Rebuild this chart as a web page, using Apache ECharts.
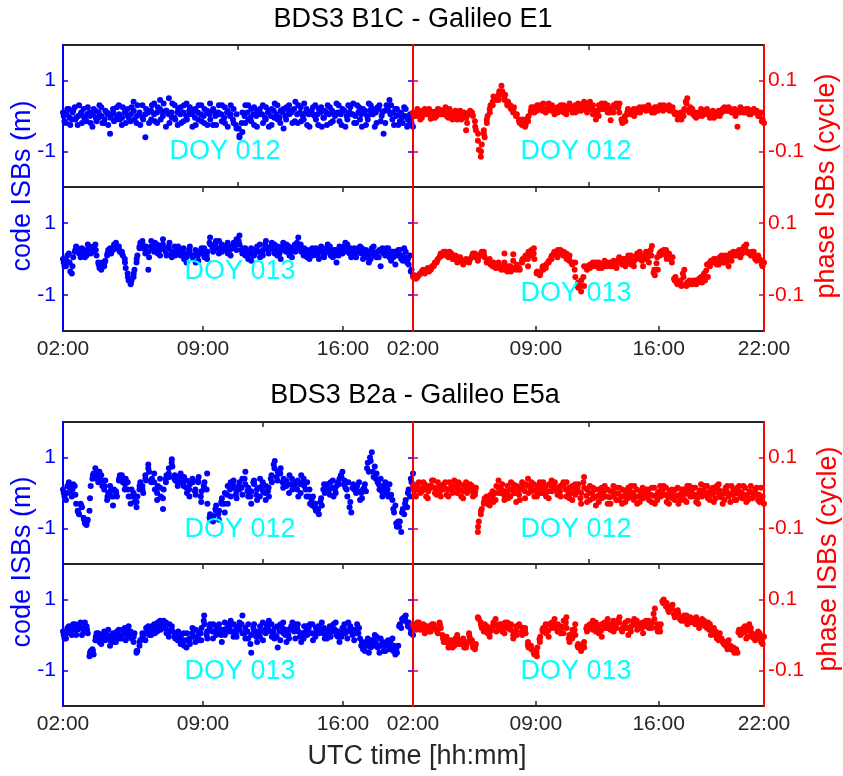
<!DOCTYPE html>
<html>
<head>
<meta charset="utf-8">
<script src="https://cdn.jsdelivr.net/npm/echarts@6/dist/echarts.min.js"></script>
<style>html,body{margin:0;padding:0;background:#fff}#main{width:843px;height:776px}</style>
</head>
<body>
<div id="main"></div>
<script>
// ISB values, evenly spaced epochs across each panel
// code ISBs in m, phase ISBs in cycle
// *_b: second sweep read at the in-between epochs, *_c: readings of the cloud centre
var codeB1C_012 = [
  0.1, -0.2, 0.2, -0.1, 0.25, -0.25, 0.05, 0.2, -0.15, 0.1,
  -0.3, 0.15, -0.05, 0.25, -0.2, 0.1, -0.5, 0.2, -0.1, 0.3,
  -0.25, 0.1, 0.2, -0.15, 0.4, -0.2, 0.05, 0.3, -0.6, 0.15,
  -0.1, 0.35, -0.2, 0.45, 0.1, -0.3, 0.5, -0.05, 0.3, -0.25,
  0.25, -0.15, 0.35, 0.05, -0.3, 0.2, -0.1, 0.3, -0.2, 0.15,
  0.35, -0.25, 0.1, 0.3, -0.15, 0.25, -0.3, 0.05, 0.2, -0.35,
  -0.55, -0.45, 0.3, -0.1, 0.2, -0.25, 0.15, 0.05, -0.2, 0.25,
  -0.3, 0.2, 0.35, -0.1, 0.15, -0.35, 0.25, 0.05, -0.2, 0.4,
  0.3, -0.15, 0.35, -0.25, 0.1, 0.25, -0.1, 0.2, -0.3, 0.15,
  0.3, -0.2, 0.1, 0.35, -0.15, 0.2, -0.3, 0.3, 0.05, -0.2,
  0.3, -0.1, 0.2, -0.25, 0.35, 0.05, -0.3, 0.25, -0.15, -0.5,
  0.3, 0.45, -0.1, 0.2, -0.25, 0.1, 0.25, -0.3, 0.05, -0.3
];
var codeB1C_012_b = [
  -0.15, 0.2, -0.25, 0.15, -0.05, 0.3, -0.2, -0.05, 0.25, -0.2,
  0.2, -0.15, 0.3, -0.2, 0.15, -0.25, 0.05, -0.15, 0.25, -0.1,
  0.25, -0.2, -0.05, 0.25, -0.1, 0.3, -0.25, -0.1, 0.2, -0.2,
  0.3, -0.15, 0.25, -0.1, 0.35, 0.15, -0.2, 0.35, -0.1, 0.2,
  -0.2, 0.3, -0.1, 0.25, 0.15, -0.25, 0.3, -0.15, 0.2, -0.25,
  -0.1, 0.2, -0.25, 0.05, 0.3, -0.2, 0.15, 0.3, -0.2, 0.05,
  -0.6, 0.1, -0.2, 0.3, -0.15, 0.25, -0.3, 0.2, 0.3, -0.1,
  0.15, -0.25, -0.05, 0.3, -0.2, 0.2, -0.1, 0.3, 0.15, -0.15,
  -0.2, 0.25, -0.1, 0.2, -0.3, 0.05, 0.3, -0.25, 0.25, -0.05,
  -0.25, 0.25, -0.15, 0.05, 0.3, -0.25, 0.15, -0.1, 0.25, 0.35,
  -0.2, 0.25, -0.3, 0.15, -0.1, 0.3, 0.2, -0.2, 0.3, 0.1,
  -0.2, 0.15, 0.3, -0.25, 0.2, -0.15, -0.2, 0.2, -0.25, -0.2
];
var codeB1C_012_c = [
  0.0, 0.05, -0.05, 0.1, -0.1, 0.0, 0.1, -0.05, 0.05, 0.0,
  0.05, -0.05, 0.1, 0.0, -0.1, 0.05, -0.05, 0.1, 0.0, 0.05,
  -0.05, 0.1, 0.0, 0.05, 0.15, 0.0, 0.1, -0.05, 0.05, 0.1,
  0.15, 0.05, 0.1, 0.2, 0.0, 0.15, 0.05, 0.1, -0.05, 0.1,
  0.05, 0.1, 0.0, 0.15, 0.05, -0.05, 0.1, 0.05, 0.0, 0.1,
  0.05, 0.15, 0.0, 0.1, 0.05, -0.05, 0.1, 0.0, -0.1, -0.25,
  -0.35, -0.2, 0.0, 0.1, -0.05, 0.05, 0.0, 0.1, 0.05, -0.05,
  0.1, 0.0, 0.15, 0.05, -0.05, 0.1, 0.0, 0.15, 0.1, 0.2,
  0.05, 0.1, 0.0, 0.1, 0.05, 0.15, 0.0, 0.05, 0.1, -0.05,
  0.1, 0.05, 0.15, 0.0, 0.1, 0.05, 0.15, 0.0, 0.1, 0.05,
  0.0, 0.1, 0.05, 0.1, 0.0, 0.15, 0.05, 0.1, 0.2, 0.0,
  0.15, 0.2, 0.05, 0.1, 0.0, 0.05, -0.05, 0.0, -0.1, -0.05
];
var phaseB1C_012 = [
  0.01, 0.0, 0.015, -0.005, 0.02, 0.005, -0.008, 0.012, 0.0, 0.018,
  0.005, 0.025, -0.005, 0.01, 0.0, -0.01, 0.015, -0.005, -0.04, 0.005,
  0.01, -0.015, -0.07, -0.115, -0.04, -0.01, 0.02, 0.04, 0.05, 0.06,
  0.085, 0.05, 0.035, 0.03, 0.015, 0.0, -0.01, -0.02, -0.03, -0.015,
  0.01, 0.025, 0.015, 0.03, 0.02, 0.01, 0.035, 0.02, 0.005, 0.025,
  0.015, 0.03, 0.005, 0.02, 0.025, 0.01, 0.035, 0.015, 0.03, 0.02,
  0.04, 0.005, -0.01, 0.03, 0.02, 0.035, 0.01, -0.012, 0.03, 0.025,
  0.035, -0.02, -0.015, 0.005, 0.015, 0.0, 0.02, 0.01, 0.025, 0.015,
  0.02, 0.01, 0.025, 0.015, 0.02, 0.03, 0.02, 0.015, 0.025, 0.01,
  0.0, -0.01, 0.02, 0.05, 0.025, 0.005, -0.005, 0.01, 0.0, 0.015,
  0.005, 0.01, -0.005, 0.01, 0.0, 0.02, 0.015, 0.025, 0.01, 0.02,
  -0.03, 0.025, 0.01, 0.02, 0.005, 0.015, 0.01, 0.0, 0.01, -0.02
];
var phaseB1C_012_b = [
  0.0, 0.02, -0.01, 0.015, 0.005, 0.02, 0.01, -0.005, 0.02, 0.005,
  0.015, 0.0, 0.02, -0.01, 0.015, 0.005, -0.01, 0.01, -0.02, 0.015,
  0.0, -0.04, -0.095, -0.08, -0.06, 0.0, 0.03, 0.055, 0.045, 0.07,
  0.07, 0.06, 0.04, 0.02, 0.025, 0.005, -0.02, -0.01, -0.025, 0.0,
  0.025, 0.01, 0.03, 0.02, 0.035, 0.015, 0.02, 0.03, 0.015, 0.01,
  0.03, 0.01, 0.025, 0.035, 0.01, 0.03, 0.015, 0.025, 0.04, 0.01,
  0.02, 0.03, 0.015, 0.0, 0.035, 0.02, 0.03, 0.02, 0.01, 0.035,
  0.01, -0.015, 0.0, 0.02, 0.005, 0.02, 0.01, 0.025, 0.02, 0.025,
  0.03, 0.02, 0.01, 0.025, 0.03, 0.015, 0.025, 0.03, 0.02, 0.005,
  -0.01, 0.01, 0.0, 0.035, 0.01, 0.02, 0.01, 0.0, 0.02, 0.005,
  0.02, -0.005, 0.015, 0.0, 0.015, 0.01, 0.025, 0.015, 0.02, 0.01,
  0.015, 0.01, 0.02, 0.01, 0.02, 0.005, 0.02, 0.015, 0.0, -0.01
];
var phaseB1C_012_c = [
  0.008, 0.01, 0.005, 0.008, 0.012, 0.006, 0.01, 0.004, 0.01, 0.008,
  0.01, 0.006, 0.008, 0.004, 0.006, 0.002, 0.006, 0.0, -0.005, 0.008,
  0.005, -0.03, -0.05, -0.1, -0.05, -0.02, 0.01, 0.03, 0.05, 0.045,
  0.06, 0.045, 0.03, 0.025, 0.01, 0.0, -0.015, -0.025, -0.02, -0.005,
  0.015, 0.02, 0.02, 0.025, 0.015, 0.02, 0.025, 0.015, 0.02, 0.015,
  0.02, 0.02, 0.015, 0.025, 0.02, 0.02, 0.025, 0.02, 0.035, 0.02,
  0.03, 0.02, 0.005, 0.015, 0.025, 0.03, 0.02, 0.01, 0.02, 0.03,
  0.025, -0.01, -0.005, 0.01, 0.01, 0.01, 0.015, 0.015, 0.02, 0.02,
  0.025, 0.015, 0.02, 0.02, 0.025, 0.025, 0.02, 0.02, 0.02, 0.01,
  0.005, 0.0, 0.01, 0.04, 0.015, 0.01, 0.0, 0.005, 0.01, 0.01,
  0.01, 0.005, 0.005, 0.005, 0.01, 0.015, 0.02, 0.02, 0.015, 0.015,
  0.0, 0.015, 0.015, 0.015, 0.01, 0.01, 0.015, 0.01, 0.005, -0.015
];
var codeB1C_013 = [
  0.0, -0.2, 0.15, -0.4, 0.2, 0.3, 0.05, 0.25, 0.1, 0.35,
  0.2, 0.4, -0.1, -0.3, -0.2, 0.1, 0.3, 0.25, 0.45, 0.35,
  0.2, 0.0, -0.4, -0.7, -0.5, -0.1, 0.3, 0.5, 0.15, -0.3,
  0.5, 0.2, 0.4, 0.1, 0.55, 0.25, 0.3, 0.05, 0.35, 0.2,
  0.1, 0.3, -0.1, 0.2, 0.05, 0.25, -0.05, 0.15, 0.3, 0.0,
  0.6, 0.35, 0.5, 0.15, 0.4, 0.25, 0.45, 0.1, 0.3, 0.55,
  0.65, 0.3, 0.1, 0.2, -0.05, 0.15, 0.35, 0.05, 0.25, 0.5,
  0.3, 0.45, 0.15, 0.35, 0.0, 0.25, 0.4, 0.1, 0.3, 0.2,
  0.6, 0.2, 0.3, 0.05, 0.25, 0.1, 0.3, 0.0, 0.2, 0.15,
  0.4, 0.1, 0.25, -0.1, 0.35, 0.15, 0.45, 0.2, 0.05, 0.3,
  0.2, 0.35, 0.0, 0.25, -0.1, 0.3, 0.1, 0.2, -0.2, 0.15,
  0.3, 0.05, 0.2, -0.15, 0.25, 0.0, 0.3, -0.1, 0.1, -0.45
];
var codeB1C_013_b = [
  -0.2, 0.1, -0.35, 0.05, 0.35, 0.15, 0.3, 0.05, 0.4, 0.15,
  0.35, 0.1, -0.25, -0.1, -0.05, 0.25, 0.15, 0.4, 0.3, 0.2,
  0.1, -0.25, -0.6, -0.6, -0.3, 0.1, 0.45, 0.3, 0.35, 0.05,
  0.3, 0.45, 0.15, 0.35, 0.3, 0.1, 0.45, 0.2, 0.1, 0.35,
  0.25, 0.0, 0.15, 0.35, 0.1, -0.1, 0.2, 0.3, 0.05, 0.2,
  0.4, 0.2, 0.3, 0.5, 0.2, 0.35, 0.15, 0.35, 0.45, 0.25,
  0.4, 0.15, 0.3, 0.0, 0.3, 0.1, 0.2, 0.4, 0.1, 0.35,
  0.15, 0.3, 0.4, 0.1, 0.3, 0.45, 0.2, 0.35, 0.05, 0.4,
  0.3, 0.4, 0.1, 0.25, 0.0, 0.3, 0.15, 0.2, 0.35, 0.05,
  0.2, 0.35, 0.05, 0.25, 0.1, 0.3, 0.2, 0.4, 0.3, 0.1,
  0.05, 0.25, 0.3, 0.1, 0.2, 0.0, 0.35, 0.05, 0.25, 0.3,
  0.1, 0.3, -0.05, 0.2, 0.1, 0.25, -0.05, 0.2, -0.15, -0.3
];
var codeB1C_013_c = [
  -0.1, -0.05, -0.1, -0.2, 0.25, 0.2, 0.2, 0.15, 0.25, 0.25,
  0.3, 0.25, -0.15, -0.2, -0.1, 0.15, 0.25, 0.3, 0.35, 0.25,
  0.15, -0.1, -0.5, -0.65, -0.4, 0.0, 0.35, 0.4, 0.25, 0.2,
  0.35, 0.3, 0.25, 0.25, 0.4, 0.2, 0.35, 0.15, 0.2, 0.25,
  0.15, 0.15, 0.05, 0.25, 0.1, 0.1, 0.1, 0.2, 0.15, 0.1,
  0.45, 0.3, 0.4, 0.3, 0.3, 0.3, 0.3, 0.25, 0.35, 0.4,
  0.5, 0.25, 0.2, 0.1, 0.15, 0.1, 0.25, 0.2, 0.2, 0.4,
  0.25, 0.35, 0.25, 0.2, 0.15, 0.35, 0.3, 0.2, 0.2, 0.3,
  0.45, 0.3, 0.2, 0.15, 0.15, 0.2, 0.2, 0.1, 0.25, 0.1,
  0.3, 0.2, 0.15, 0.1, 0.2, 0.2, 0.35, 0.3, 0.15, 0.2,
  0.15, 0.3, 0.15, 0.15, 0.05, 0.15, 0.2, 0.15, 0.05, 0.2,
  0.2, 0.15, 0.1, 0.05, 0.2, 0.1, 0.1, 0.05, 0.0, -0.35
];
var phaseB1C_013 = [
  -0.05, -0.055, -0.045, -0.035, -0.04, -0.025, -0.03, -0.02, -0.01, 0.005,
  0.01, 0.02, 0.005, 0.015, 0.0, -0.01, 0.005, -0.015, 0.0, -0.01,
  0.005, 0.015, -0.005, 0.01, 0.02, -0.01, 0.0, -0.02, -0.025, -0.01,
  -0.03, 0.015, -0.035, -0.02, 0.013, -0.03, -0.025, -0.01, 0.0, -0.02,
  0.01, 0.03, -0.04, -0.045, -0.02, -0.025, -0.01, 0.0, 0.02, 0.005,
  0.025, 0.01, 0.015, -0.005, -0.015, -0.01, -0.065, -0.09, -0.075, -0.03,
  -0.015, -0.02, -0.01, -0.025, -0.015, -0.02, -0.01, -0.02, -0.005, -0.025,
  -0.01, 0.0, -0.02, 0.01, -0.015, -0.005, 0.015, 0.005, -0.02, 0.02,
  -0.01, 0.036, -0.045, -0.03, 0.02, 0.025, 0.0, 0.01, 0.005, -0.05,
  -0.065, -0.075, -0.03, -0.065, -0.07, -0.06, -0.07, -0.055, -0.065, -0.06,
  -0.05, -0.005, 0.0, -0.015, 0.005, -0.01, 0.01, -0.02, -0.005, 0.01,
  0.02, 0.005, 0.03, 0.04, 0.015, 0.02, 0.0, 0.01, -0.005, -0.01
];
var phaseB1C_013_b = [
  -0.045, -0.05, -0.04, -0.03, -0.03, -0.035, -0.02, -0.01, 0.0, 0.015,
  0.02, 0.01, 0.02, 0.0, 0.01, 0.005, -0.005, -0.01, -0.005, 0.0,
  0.015, 0.005, 0.01, 0.02, 0.005, -0.005, -0.015, -0.01, -0.02, -0.025,
  -0.02, -0.03, -0.02, -0.035, -0.025, -0.015, -0.03, 0.0, 0.01, 0.02,
  0.025, 0.0, -0.035, -0.04, -0.03, -0.015, -0.005, 0.01, 0.015, 0.025,
  0.015, 0.02, 0.0, 0.01, -0.01, -0.05, -0.08, -0.06, -0.02, -0.02,
  -0.025, -0.01, -0.02, -0.01, -0.025, -0.005, -0.02, -0.01, -0.02, -0.01,
  0.005, -0.015, 0.0, -0.01, 0.01, -0.02, 0.0, 0.02, 0.01, 0.0,
  0.02, 0.01, -0.03, 0.005, 0.01, 0.02, 0.025, 0.015, -0.01, -0.06,
  -0.07, -0.06, -0.05, -0.075, -0.06, -0.07, -0.06, -0.065, -0.05, -0.04,
  -0.015, -0.02, -0.01, 0.0, -0.015, 0.01, -0.01, 0.005, 0.015, 0.02,
  0.01, 0.025, 0.015, 0.03, 0.02, 0.01, 0.02, -0.005, 0.0, -0.02
];
var phaseB1C_013_c = [
  -0.048, -0.052, -0.042, -0.032, -0.035, -0.03, -0.025, -0.015, -0.005, 0.01,
  0.015, 0.015, 0.012, 0.008, 0.005, 0.0, 0.0, -0.012, -0.003, -0.005,
  0.01, 0.01, 0.002, 0.015, 0.012, -0.008, -0.008, -0.015, -0.022, -0.018,
  -0.025, -0.01, -0.028, -0.028, -0.005, -0.022, -0.028, -0.005, 0.005, 0.0,
  0.018, 0.015, -0.038, -0.042, -0.025, -0.02, -0.008, 0.005, 0.018, 0.015,
  0.02, 0.015, 0.008, 0.002, -0.012, -0.03, -0.075, -0.075, -0.05, -0.025,
  -0.02, -0.015, -0.015, -0.018, -0.02, -0.012, -0.015, -0.015, -0.012, -0.018,
  -0.002, -0.008, -0.01, 0.0, -0.002, -0.012, 0.008, 0.012, -0.005, 0.01,
  0.005, 0.025, -0.038, -0.012, 0.015, 0.022, 0.012, 0.012, -0.002, -0.055,
  -0.068, -0.068, -0.04, -0.07, -0.065, -0.065, -0.065, -0.06, -0.058, -0.05,
  -0.032, -0.012, -0.005, -0.008, -0.005, 0.0, 0.0, -0.008, 0.005, 0.015,
  0.015, 0.015, 0.022, 0.035, 0.018, 0.015, 0.01, 0.002, -0.002, -0.015
];
var codeB2a_012 = [
  0.1, -0.2, 0.3, -0.1, 0.2, -0.5, -0.3, -0.7, -0.9, -0.5,
  0.4, 0.7, 0.3, 0.5, 0.1, -0.2, 0.2, -0.35, 0.05, 0.35,
  0.5, 0.1, 0.3, -0.3, 0.0, -0.4, 0.1, 0.2, 0.5, 0.8,
  0.3, 0.55, -0.2, 0.4, -0.45, 0.3, 0.7, 0.95, 0.5, 0.2,
  0.55, 0.2, 0.35, -0.1, 0.4, 0.1, 0.3, -0.25, 0.15, 0.55,
  -0.6, -0.8, -0.5, -0.75, -0.3, -0.55, 0.2, -0.1, 0.35, 0.05,
  0.3, -0.05, 0.6, 0.15, -0.3, 0.25, -0.2, 0.4, 0.05, 0.2,
  -0.1, 0.3, 0.9, 0.6, 0.7, 0.4, 0.2, 0.5, 0.1, 0.3,
  -0.1, 0.5, 0.2, 0.3, -0.3, -0.1, -0.5, -0.6, -0.35, 0.0,
  0.1, 0.3, -0.1, 0.2, 0.4, 0.6, 0.15, 0.3, -0.55, 0.1,
  0.2, -0.2, 0.1, 0.05, 0.6, 1.15, 0.75, 0.3, 0.4, 0.2,
  0.0, 0.25, -0.2, -0.35, -0.8, -1.1, -0.6, -0.4, -0.1, 0.55
];
var codeB2a_012_b = [
  -0.1, 0.2, 0.0, 0.25, -0.3, -0.6, -0.4, -0.85, -0.75, 0.2,
  0.55, 0.4, 0.6, 0.2, 0.35, 0.0, -0.1, 0.1, -0.1, 0.5,
  0.3, 0.4, -0.1, 0.1, -0.25, -0.1, 0.3, 0.0, 0.35, 0.6,
  0.4, 0.1, 0.2, -0.1, 0.1, 0.5, 0.45, 0.75, 0.35, 0.45,
  0.3, 0.45, 0.0, 0.25, 0.3, -0.05, 0.45, 0.05, 0.3, -0.3,
  -0.75, -0.65, -0.35, -0.5, -0.15, 0.0, -0.3, 0.3, 0.15, -0.15,
  0.1, 0.4, 0.25, -0.1, 0.05, 0.35, 0.1, -0.1, 0.3, -0.2,
  0.15, 0.5, 0.7, 0.35, 0.55, 0.15, 0.35, 0.0, 0.4, 0.15,
  0.35, 0.0, 0.4, -0.1, 0.1, -0.35, -0.3, -0.45, -0.15, 0.25,
  0.25, -0.05, 0.35, 0.0, 0.25, 0.45, 0.35, -0.1, -0.25, 0.25,
  0.0, 0.3, -0.15, 0.25, 0.85, 0.9, 0.45, 0.55, 0.1, -0.1,
  0.3, -0.1, -0.05, -0.55, -0.95, -0.8, -0.45, -0.2, 0.1, 0.3
];
var codeB2a_012_c = [
  0.0, 0.0, 0.15, 0.1, -0.05, -0.55, -0.35, -0.75, -0.8, -0.15,
  0.5, 0.55, 0.45, 0.35, 0.2, -0.1, 0.05, -0.1, 0.0, 0.4,
  0.4, 0.25, 0.1, -0.1, -0.1, -0.25, 0.2, 0.1, 0.4, 0.7,
  0.35, 0.3, 0.0, 0.15, -0.15, 0.4, 0.55, 0.85, 0.4, 0.3,
  0.45, 0.3, 0.15, 0.1, 0.35, 0.05, 0.35, -0.1, 0.2, 0.1,
  -0.7, -0.7, -0.45, -0.6, -0.25, -0.3, -0.05, 0.1, 0.25, -0.05,
  0.2, 0.15, 0.4, 0.05, -0.1, 0.3, -0.05, 0.15, 0.2, 0.0,
  0.05, 0.4, 0.8, 0.45, 0.6, 0.3, 0.25, 0.25, 0.25, 0.2,
  0.1, 0.25, 0.3, 0.1, -0.1, -0.2, -0.4, -0.5, -0.25, 0.1,
  0.2, 0.1, 0.15, 0.1, 0.3, 0.5, 0.25, 0.1, -0.4, 0.15,
  0.1, 0.05, 0.0, 0.15, 0.7, 1.0, 0.6, 0.4, 0.25, 0.05,
  0.15, 0.1, -0.1, -0.45, -0.85, -0.95, -0.55, -0.3, 0.0, 0.4
];
var phaseB2a_012 = [
  0.02, -0.01, 0.03, 0.005, 0.025, -0.015, 0.015, 0.035, -0.005, 0.02,
  0.01, 0.03, -0.01, 0.02, 0.035, 0.0, 0.025, -0.015, 0.03, 0.01,
  0.02, -0.005, -0.11, -0.06, -0.03, -0.01, -0.035, 0.005, -0.02, 0.035,
  0.0, -0.02, 0.02, -0.01, 0.025, -0.025, 0.01, 0.03, -0.015, 0.04,
  0.005, 0.025, -0.01, 0.03, 0.0, 0.02, -0.015, 0.035, 0.01, -0.005,
  0.02, 0.03, -0.01, 0.015, -0.02, 0.025, 0.005, -0.03, 0.045, 0.01,
  -0.02, 0.015, -0.035, 0.01, -0.015, 0.02, -0.03, 0.005, -0.01, 0.015,
  -0.02, 0.01, -0.025, 0.015, -0.01, 0.02, -0.03, 0.005, -0.015, 0.01,
  -0.02, 0.015, -0.03, 0.0, -0.01, 0.02, -0.025, 0.005, -0.015, 0.01,
  -0.03, 0.01, -0.02, 0.02, -0.01, 0.015, -0.025, 0.0, -0.01, 0.02,
  -0.015, 0.01, -0.025, 0.02, -0.005, -0.03, 0.015, -0.01, 0.02, -0.02,
  0.015, -0.01, 0.02, -0.025, 0.005, -0.015, 0.01, -0.02, 0.015, -0.03
];
var phaseB2a_012_b = [
  -0.005, 0.025, 0.0, 0.03, -0.01, 0.02, 0.035, 0.0, 0.03, -0.01,
  0.025, -0.005, 0.03, 0.0, 0.015, 0.03, -0.01, 0.02, 0.0, 0.025,
  -0.01, 0.015, -0.08, -0.045, -0.015, -0.03, -0.005, -0.025, 0.02, 0.0,
  0.025, 0.005, -0.015, 0.03, 0.0, 0.02, -0.02, 0.01, 0.025, 0.0,
  0.03, -0.01, 0.02, 0.0, 0.03, -0.01, 0.025, 0.005, 0.03, 0.015,
  -0.01, 0.02, 0.03, -0.015, 0.02, -0.005, 0.025, 0.0, 0.015, -0.025,
  0.02, -0.015, 0.01, -0.025, 0.015, -0.01, 0.01, -0.03, 0.02, -0.02,
  0.015, -0.03, 0.005, -0.015, 0.02, -0.02, 0.01, -0.025, 0.015, -0.01,
  0.01, -0.025, 0.015, -0.02, 0.02, -0.005, 0.015, -0.03, 0.01, -0.02,
  0.015, -0.02, 0.01, -0.025, 0.02, -0.01, 0.015, -0.03, 0.025, -0.005,
  0.02, -0.02, 0.015, -0.015, 0.025, 0.005, -0.02, 0.02, -0.025, 0.01,
  -0.02, 0.02, -0.015, 0.015, -0.02, 0.02, -0.01, 0.015, -0.025, -0.01
];
var phaseB2a_012_c = [
  0.008, 0.01, 0.012, 0.015, 0.01, 0.005, 0.02, 0.015, 0.012, 0.005,
  0.015, 0.012, 0.01, 0.01, 0.02, 0.015, 0.008, 0.005, 0.015, 0.015,
  0.005, 0.005, -0.095, -0.05, -0.025, -0.02, -0.02, -0.01, 0.0, 0.015,
  0.01, -0.008, 0.0, 0.01, 0.012, 0.0, -0.005, 0.02, 0.005, 0.02,
  0.015, 0.008, 0.005, 0.015, 0.015, 0.005, 0.005, 0.02, 0.02, 0.005,
  0.005, 0.025, 0.01, 0.0, 0.0, 0.01, 0.015, -0.015, 0.03, -0.008,
  0.0, 0.0, -0.012, -0.008, 0.0, 0.005, -0.01, -0.012, 0.005, -0.002,
  -0.002, -0.01, -0.01, 0.0, 0.005, 0.0, -0.01, -0.01, 0.0, 0.0,
  -0.005, -0.005, -0.008, -0.01, 0.005, 0.008, -0.005, -0.012, -0.002, -0.005,
  -0.008, -0.005, -0.005, -0.002, 0.005, 0.002, -0.005, -0.015, 0.008, 0.008,
  0.002, -0.005, -0.005, 0.002, 0.01, -0.012, -0.002, 0.005, -0.002, -0.005,
  -0.002, 0.005, 0.002, -0.005, -0.008, 0.002, 0.0, -0.002, -0.005, -0.02
];
var codeB2a_013 = [
  0.1, -0.1, 0.25, 0.0, 0.3, 0.15, 0.35, 0.1, 0.25, -0.6,
  -0.4, -0.15, 0.05, -0.25, 0.1, -0.1, -0.3, 0.05, -0.2, 0.15,
  -0.1, 0.2, -0.05, 0.1, -0.2, -0.5, -0.3, 0.05, -0.15, 0.25,
  0.0, 0.3, 0.1, 0.4, 0.2, 0.35, -0.05, 0.25, 0.05, -0.15,
  -0.25, 0.05, -0.35, -0.1, 0.2, -0.2, 0.1, -0.15, 0.55, 0.1,
  0.3, -0.1, 0.25, 0.05, -0.2, 0.35, 0.1, 0.4, -0.05, 0.2,
  0.15, 0.55, -0.1, 0.3, -0.5, 0.1, -0.2, 0.25, -0.15, 0.3,
  0.4, -0.05, 0.2, -0.35, 0.3, 0.05, -0.2, 0.15, 0.35, -0.1,
  0.1, -0.2, 0.25, 0.0, 0.3, -0.15, 0.2, 0.05, 0.35, -0.1,
  0.15, -0.05, 0.3, 0.0, -0.2, 0.2, 0.05, 0.35, 0.1, -0.15,
  0.3, -0.1, -0.4, -0.2, -0.5, -0.15, 0.0, -0.35, -0.1, -0.45,
  -0.2, -0.4, -0.1, -0.55, -0.3, 0.2, 0.5, 0.35, 0.2, 0.0
];
var codeB2a_013_b = [
  -0.1, 0.2, 0.05, 0.3, 0.0, 0.3, 0.0, 0.35, 0.05, -0.45,
  -0.55, 0.05, -0.2, 0.0, -0.15, 0.15, -0.05, -0.2, 0.1, -0.1,
  0.15, -0.15, 0.25, -0.1, 0.05, -0.45, -0.15, -0.1, 0.2, 0.0,
  0.25, 0.05, 0.35, 0.15, 0.4, 0.05, 0.3, 0.1, -0.1, 0.1,
  0.0, -0.3, 0.05, -0.25, -0.05, 0.15, -0.15, 0.2, 0.3, -0.1,
  0.15, 0.3, 0.0, 0.3, 0.15, 0.0, 0.3, 0.1, 0.3, -0.05,
  0.35, 0.05, 0.2, -0.1, 0.0, 0.3, 0.1, -0.05, 0.35, 0.05,
  0.15, 0.3, -0.1, 0.25, -0.15, 0.35, 0.15, -0.1, 0.15, 0.3,
  0.3, 0.05, -0.1, 0.25, 0.05, 0.3, -0.05, 0.25, 0.1, 0.2,
  -0.1, 0.25, 0.1, 0.35, 0.1, -0.05, 0.3, -0.1, 0.25, 0.15,
  0.05, 0.2, -0.2, -0.45, -0.1, -0.35, -0.3, -0.05, -0.5, -0.2,
  -0.45, -0.15, -0.35, -0.3, -0.5, 0.3, 0.4, 0.55, 0.35, 0.1
];
var codeB2a_013_c = [
  0.0, 0.05, 0.15, 0.15, 0.15, 0.2, 0.2, 0.2, 0.15, -0.5,
  -0.45, -0.05, -0.1, -0.1, -0.05, 0.0, -0.15, -0.1, -0.05, 0.0,
  0.0, 0.05, 0.1, 0.0, -0.05, -0.45, -0.2, -0.05, 0.05, 0.1,
  0.15, 0.2, 0.2, 0.25, 0.3, 0.2, 0.1, 0.15, -0.05, -0.05,
  -0.1, -0.15, -0.15, -0.15, 0.05, -0.05, -0.05, 0.05, 0.4, 0.0,
  0.2, 0.1, 0.1, 0.2, 0.0, 0.15, 0.2, 0.25, 0.1, 0.05,
  0.25, 0.3, 0.05, 0.1, -0.25, 0.2, -0.05, 0.1, 0.1, 0.15,
  0.25, 0.1, 0.05, -0.05, 0.1, 0.2, 0.0, 0.0, 0.25, 0.1,
  0.2, -0.05, 0.05, 0.1, 0.2, 0.05, 0.05, 0.15, 0.2, 0.05,
  0.0, 0.1, 0.2, 0.15, -0.05, 0.05, 0.2, 0.1, 0.15, 0.0,
  0.15, 0.05, -0.3, -0.3, -0.3, -0.25, -0.15, -0.2, -0.3, -0.3,
  -0.3, -0.25, -0.2, -0.45, -0.4, 0.25, 0.45, 0.45, 0.25, 0.05
];
var phaseB2a_013 = [
  0.03, 0.015, 0.035, 0.02, 0.005, 0.025, 0.01, 0.03, 0.015, 0.035,
  0.0, -0.02, -0.035, -0.015, -0.03, 0.0, -0.025, -0.01, -0.035, 0.005,
  -0.015, -0.04, 0.05, 0.035, 0.01, 0.025, -0.005, 0.015, 0.045, 0.02,
  0.03, 0.005, 0.035, 0.015, -0.01, 0.025, 0.03, 0.0, 0.02, -0.02,
  -0.03, -0.045, -0.06, -0.02, 0.01, 0.03, -0.005, 0.02, 0.045, 0.01,
  0.025, 0.005, 0.05, 0.0, -0.01, 0.03, -0.035, -0.045, -0.02, 0.01,
  0.03, 0.04, 0.01, 0.025, -0.005, 0.02, 0.045, 0.03, 0.01, 0.035,
  0.05, 0.02, 0.035, 0.0, 0.025, 0.045, 0.015, 0.03, 0.005, 0.04,
  0.02, 0.035, 0.075, 0.01, 0.03, 0.1, 0.09, 0.075, 0.085, 0.065,
  0.06, 0.04, 0.055, 0.03, 0.05, 0.035, 0.05, 0.02, 0.045, 0.025,
  0.035, 0.0, 0.02, -0.01, 0.005, -0.02, -0.03, -0.015, -0.04, -0.05,
  -0.05, 0.0, 0.02, -0.01, 0.03, 0.005, -0.015, 0.01, -0.02, -0.005
];
var phaseB2a_013_b = [
  0.02, 0.035, 0.015, 0.03, 0.025, 0.01, 0.03, 0.02, 0.005, 0.02,
  -0.02, -0.005, -0.02, -0.035, -0.01, -0.025, -0.015, -0.035, -0.02, -0.01,
  -0.035, -0.025, 0.045, 0.02, 0.03, 0.005, 0.02, 0.035, 0.01, 0.03,
  0.01, 0.035, 0.02, 0.03, 0.01, 0.0, 0.025, 0.02, 0.005, -0.035,
  -0.04, -0.055, -0.035, -0.005, 0.02, 0.005, 0.03, 0.035, 0.02, 0.03,
  0.005, 0.04, 0.02, -0.02, 0.015, 0.0, -0.025, -0.03, -0.035, 0.025,
  0.02, 0.015, 0.035, 0.005, 0.03, 0.035, 0.02, 0.015, 0.04, 0.02,
  0.035, 0.01, 0.02, 0.04, 0.01, 0.03, 0.04, 0.02, 0.035, 0.025,
  0.04, 0.02, 0.045, 0.03, 0.01, 0.09, 0.08, 0.065, 0.075, 0.05,
  0.07, 0.05, 0.04, 0.055, 0.035, 0.045, 0.03, 0.04, 0.03, 0.04,
  0.02, 0.03, 0.005, 0.01, -0.015, -0.01, -0.02, -0.04, -0.03, -0.035,
  -0.04, 0.015, 0.005, 0.025, -0.005, 0.02, 0.0, -0.01, 0.005, -0.025
];
var phaseB2a_013_c = [
  0.025, 0.025, 0.025, 0.025, 0.015, 0.018, 0.02, 0.025, 0.01, 0.028,
  -0.01, -0.012, -0.028, -0.025, -0.02, -0.012, -0.02, -0.022, -0.028, -0.002,
  -0.025, -0.032, 0.048, 0.028, 0.02, 0.015, 0.008, 0.025, 0.028, 0.025,
  0.02, 0.02, 0.028, 0.022, 0.0, 0.012, 0.028, 0.01, 0.012, -0.028,
  -0.035, -0.05, -0.048, -0.012, 0.015, 0.018, 0.012, 0.028, 0.032, 0.02,
  0.015, 0.022, 0.035, -0.01, 0.002, 0.015, -0.03, -0.038, -0.028, 0.018,
  0.025, 0.028, 0.022, 0.015, 0.012, 0.028, 0.032, 0.022, 0.025, 0.028,
  0.042, 0.015, 0.028, 0.02, 0.018, 0.038, 0.028, 0.025, 0.02, 0.032,
  0.03, 0.028, 0.06, 0.02, 0.02, 0.095, 0.085, 0.07, 0.08, 0.058,
  0.065, 0.045, 0.048, 0.042, 0.042, 0.04, 0.04, 0.03, 0.038, 0.032,
  0.028, 0.015, 0.012, 0.0, -0.005, -0.015, -0.025, -0.028, -0.035, -0.042,
  -0.045, 0.008, 0.012, 0.008, 0.012, 0.012, -0.008, 0.0, -0.008, -0.015
];

// tick values
var codeTicks = [-1, 1];
var phaseTicks = [-0.1, 0.1];
var codeHours = [2, 9, 16];        // left panels, 02:00 .. 19:30
var phaseHours = [2, 9, 16, 22];   // right panels, 02:00 .. 22:00
var midHour = [12];                // single tick on the upper panels

var font = '"Liberation Sans", Arial, Helvetica, sans-serif';
var dark = '#262626';
var blue = '#0000ff';
var red = '#ff0000';
var cyan = '#00ffff';

// panel layout: [left, top, width, height]
var panels = [
  {box: [63, 45, 350, 142], data: [codeB1C_012, codeB1C_012_b, codeB1C_012_c], kind: 'code', range: [2, 22], ticks: midHour, label: false, doy: 'DOY 012', tx: 225, ty: 152},
  {box: [413, 45, 351, 142], data: [phaseB1C_012, phaseB1C_012_b, phaseB1C_012_c], kind: 'phase', range: [2, 22], ticks: midHour, label: false, doy: 'DOY 012', tx: 576, ty: 152},
  {box: [63, 187, 350, 144], data: [codeB1C_013, codeB1C_013_b, codeB1C_013_c], kind: 'code', range: [2, 19.5], ticks: codeHours, label: true, doy: 'DOY 013', tx: 240, ty: 272},
  {box: [413, 187, 351, 144], data: [phaseB1C_013, phaseB1C_013_b, phaseB1C_013_c], kind: 'phase', range: [2, 22], ticks: phaseHours, label: true, doy: 'DOY 013', tx: 576, ty: 294},
  {box: [63, 422, 350, 142], data: [codeB2a_012, codeB2a_012_b, codeB2a_012_c], kind: 'code', range: [2, 19.5], ticks: midHour, label: false, doy: 'DOY 012', tx: 240, ty: 530},
  {box: [413, 422, 351, 142], data: [phaseB2a_012, phaseB2a_012_b, phaseB2a_012_c], kind: 'phase', range: [2, 22], ticks: midHour, label: false, doy: 'DOY 012', tx: 576, ty: 530},
  {box: [63, 564, 350, 142], data: [codeB2a_013, codeB2a_013_b, codeB2a_013_c], kind: 'code', range: [2, 19.5], ticks: codeHours, label: true, doy: 'DOY 013', tx: 240, ty: 672},
  {box: [413, 564, 351, 142], data: [phaseB2a_013, phaseB2a_013_b, phaseB2a_013_c], kind: 'phase', range: [2, 22], ticks: phaseHours, label: true, doy: 'DOY 013', tx: 576, ty: 672}
];

// epoch offsets (fraction of a step) for each sweep
var sweepOffset = [0, 0.5, 0.25];

function hhmm(v) {
  return (v < 10 ? '0' : '') + v + ':00';
}

function xAx(gi, pos, p, showLabel) {
  return {
    type: 'value', gridIndex: gi, position: pos, min: p.range[0], max: p.range[1], z: 2,
    axisLine: {show: true, onZero: false, lineStyle: {color: dark, width: 2}},
    axisTick: {show: true, inside: true, length: 5, customValues: p.ticks, lineStyle: {color: dark, width: 1.5}},
    axisLabel: {show: showLabel, customValues: p.ticks, formatter: hhmm, color: dark, fontSize: 21, fontFamily: font, margin: 8},
    splitLine: {show: false}
  };
}

function yAx(gi, pos, kind, lineColor, tickColor, showLabel) {
  var isCode = kind === 'code';
  var ticks = isCode ? codeTicks : phaseTicks;
  return {
    type: 'value', gridIndex: gi, position: pos, z: 3,
    min: isCode ? -2 : -0.2, max: isCode ? 2 : 0.2,
    axisLine: {show: !!lineColor, onZero: false, lineStyle: {color: lineColor || tickColor, width: 2}},
    axisTick: {show: true, inside: true, length: 5, customValues: ticks, lineStyle: {color: tickColor, width: 1.5}},
    axisLabel: {show: showLabel, customValues: ticks, formatter: function (v) { return String(v); },
      color: tickColor, fontSize: 21, fontFamily: font, margin: pos === 'left' ? 7 : 4},
    splitLine: {show: false}
  };
}

var grids = [], xAxes = [], yAxes = [], series = [], graphics = [];

panels.forEach(function (p, gi) {
  grids.push({left: p.box[0], top: p.box[1], width: p.box[2], height: p.box[3], show: false});
  xAxes.push(xAx(gi, 'bottom', p, p.label));
  xAxes.push(xAx(gi, 'top', p, false));
  var yi;
  if (p.kind === 'code') {
    yAxes.push(yAx(gi, 'left', 'code', blue, blue, true));
    yAxes.push(yAx(gi, 'right', 'code', null, blue, false));
    yi = gi * 2;
  } else {
    yAxes.push(yAx(gi, 'left', 'phase', red, red, false));
    yAxes.push(yAx(gi, 'right', 'phase', red, red, true));
    yi = gi * 2 + 1;
  }
  var span = p.range[1] - p.range[0];
  var pts = [];
  p.data.forEach(function (arr, k) {
    var n = arr.length;
    arr.forEach(function (v, i) {
      var t = k === 0 ? span * i / (n - 1) : span * (i + sweepOffset[k]) / n;
      pts.push([p.range[0] + t, v]);
    });
  });
  series.push({
    type: 'scatter', xAxisIndex: gi * 2, yAxisIndex: yi, data: pts,
    symbol: 'circle', symbolSize: 6, silent: true,
    itemStyle: {color: p.kind === 'code' ? blue : red, opacity: 1}
  });
  graphics.push({type: 'text', x: p.tx, y: p.ty, z: 100,
    style: {text: p.doy, fill: cyan, font: '27px ' + font, align: 'center', verticalAlign: 'middle'}});
});

function label(text, x, y, color, rot) {
  return {type: 'text', x: x, y: y, rotation: rot || 0, z: 100,
    style: {text: text, fill: color, font: '27px ' + font, align: 'center', verticalAlign: 'middle'}};
}

graphics.push(label('BDS3 B1C - Galileo E1', 413, 20, '#000'));
graphics.push(label('BDS3 B2a - Galileo E5a', 415, 396, '#000'));
graphics.push(label('code ISBs (m)', 23, 186, blue, Math.PI / 2));
graphics.push(label('code ISBs (m)', 23, 562, blue, Math.PI / 2));
graphics.push(label('phase ISBs (cycle)', 827, 186, red, Math.PI / 2));
graphics.push(label('phase ISBs (cycle)', 829, 559, red, Math.PI / 2));
graphics.push(label('UTC time [hh:mm]', 417, 757, dark));

var chart = echarts.init(document.getElementById('main'));
chart.setOption({
  animation: false,
  backgroundColor: '#fff',
  grid: grids,
  xAxis: xAxes,
  yAxis: yAxes,
  series: series,
  graphic: graphics
});
</script>
</body>
</html>
